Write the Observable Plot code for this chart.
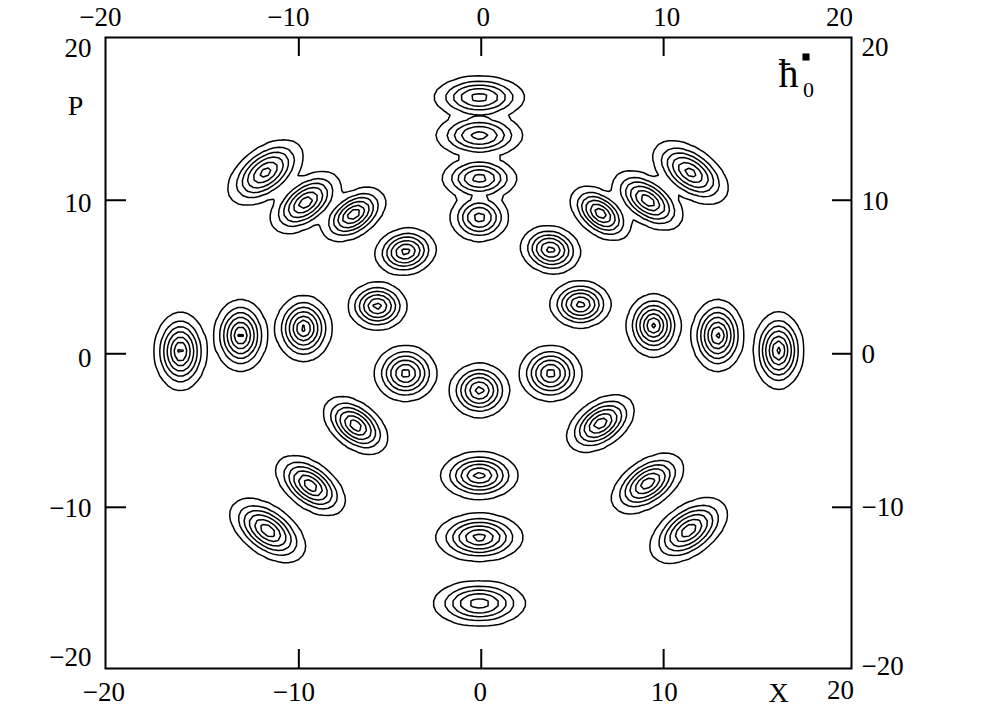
<!DOCTYPE html>
<html><head><meta charset="utf-8">
<script src="https://cdn.jsdelivr.net/npm/d3@7"></script>
<script src="https://cdn.jsdelivr.net/npm/@observablehq/plot@0.6"></script>
<style>html,body{margin:0;padding:0;background:#fff;}</style>
</head><body><div id="chart"></div>
<script>
// Blob (phase-space peak) parameters, in X / P units
const blobX     = [-0.1, -0.1, -0.1, -0.1,   -0.1, -0.1, -0.1, -0.1,
                   -16.49, -13.19, -9.74, 9.45, 12.96, 16.30,
                   -11.83, -9.63, -7.0, -4.15, -5.69,   11.47, 9.12, 6.54, 3.80, 5.44,
                   -4.15, 3.80,   -6.89, -9.36, -11.71,   6.54, 9.12, 11.37];
const blobP     = [16.70, 14.22, 11.42, 8.88,   -2.39, -7.93, -11.96, -16.26,
                   0.15, 1.19, 1.65, 1.84, 1.19, 0.21,
                   11.81, 9.85, 9.07, 6.65, 3.10,   11.81, 9.98, 9.14, 6.78, 3.22,
                   -1.28, -1.28,   -4.67, -8.58, -11.51,   -4.54, -8.45, -11.51];
// half-extent of the outermost contour along X and along P
const blobHalfX = [2.47, 2.36, 2.03, 1.59,   1.64, 2.11, 2.38, 2.52,
                   1.43, 1.45, 1.54, 1.48, 1.43, 1.37,
                   2.06, 1.92, 1.75, 1.66, 1.60,   2.06, 1.92, 1.64, 1.63, 1.66,
                   1.70, 1.70,   1.75, 1.89, 2.06,   1.84, 1.97, 2.11];
const blobHalfP = [1.37, 1.40, 1.37, 1.56,   1.76, 1.53, 1.56, 1.47,
                   2.54, 2.34, 2.15, 2.05, 2.34, 2.51,
                   2.12, 2.00, 1.75, 1.52, 1.55,   2.05, 1.92, 1.75, 1.55, 1.52,
                   1.82, 1.82,   1.86, 1.95, 2.08,   1.86, 1.95, 2.12];
const blobRho   = [0, 0, 0, 0,   0, 0, 0, 0,   0, 0, 0, 0, 0, 0,
                   0.5, 0.5, 0.45, 0.1, 0,   -0.5, -0.5, -0.45, -0.1, 0,
                   0, 0,   -0.45, -0.5, -0.5,   0.45, 0.5, 0.5];
const blobAmp   = [0.68, 0.68, 0.68, 0.68,   0.85, 0.85, 0.85, 0.7,
                   0.97, 0.97, 0.97, 0.97, 0.97, 0.97,
                   0.85, 0.9, 0.9, 0.85, 0.85,   0.85, 0.9, 0.9, 0.85, 0.85,
                   0.85, 0.85,   0.9, 0.9, 0.9,   0.9, 0.9, 0.9];
const levels = [0.03, 0.12, 0.24, 0.4, 0.6, 0.78, 0.93];

const tickVals  = [-10, 0, 10];
const labelVals = [-20, -10, 0, 10, 20];
const xDomain = [-20.6, 20.3];
const yDomain = [-20.5, 20.6];

// ---- model built from the arrays ----
const blobs = blobX.map((x, i) => {
  const k = Math.sqrt(2 * Math.log(blobAmp[i] / levels[0]));
  return {x, p: blobP[i], sx: blobHalfX[i] / k, sp: blobHalfP[i] / k, rho: blobRho[i], amp: blobAmp[i]};
});
function wigner(x, p) {
  let s = 0;
  for (const b of blobs) {
    const u = (x - b.x) / b.sx, v = (p - b.p) / b.sp;
    const q = (u * u - 2 * b.rho * u * v + v * v) / (1 - b.rho * b.rho);
    if (q < 80) s += b.amp * Math.exp(-q / 2);
  }
  return s;
}

// ---- layout ----
const W = 981, H = 721, mL = 105, mR = 130, mT = 37, mB = 53;
const fw = W - mL - mR, fh = H - mT - mB;

// coarse sampling grid over the frame (top row first) -> polygonal contours
const cell = 5;
const gw = Math.round(fw / cell), gh = Math.round(fh / cell);
const gx1 = xDomain[0], gx2 = xDomain[1], gy1 = yDomain[1], gy2 = yDomain[0];
const grid = new Array(gw * gh);
for (let j = 0; j < gh; ++j) {
  const p = gy1 + (j + 0.5) * (gy2 - gy1) / gh;
  for (let i = 0; i < gw; ++i) {
    grid[j * gw + i] = wigner(gx1 + (i + 0.5) * (gx2 - gx1) / gw, p);
  }
}

const fmt = v => v < 0 ? "\u2212" + (-v) : String(v);
const font = {fontFamily: "Liberation Serif, 'Times New Roman', serif", fontSize: 27, fill: "black", lineAnchor: "middle"};

const topDx = [-16, -10.5, 2, 3, -6.5];
const botDx = [-12.5, -5, -1, 0.5, -5.5];
const botDy = [24, 24, 24, 24, 22];
const leftDy = [-3, 1.5, 4.5, 3, 1.3];
const rightDy = [5.6, 0, 0.5, 1.5, 0.3];

const labelMarks = labelVals.flatMap((v, i) => [
  Plot.text([v], {x: d => d, frameAnchor: "top", textAnchor: "middle", dx: topDx[i], dy: -20.5, text: fmt, ...font}),
  Plot.text([v], {x: d => d, frameAnchor: "bottom", textAnchor: "middle", dx: botDx[i], dy: botDy[i], text: fmt, ...font}),
  Plot.text([v], {y: d => d, frameAnchor: "left", textAnchor: "end", dx: -14, dy: leftDy[i], text: fmt, ...font}),
  Plot.text([v], {y: d => d, frameAnchor: "right", textAnchor: "start", dx: 10, dy: rightDy[i], text: fmt, ...font})
]);

const chart = Plot.plot({
  width: W, height: H,
  marginLeft: mL, marginRight: mR, marginTop: mT, marginBottom: mB,
  style: {background: "white", color: "black"},
  x: {domain: xDomain, axis: null},
  y: {domain: yDomain, axis: null},
  marks: [
    Plot.contour(grid, {width: gw, height: gh, x1: gx1, y1: gy1, x2: gx2, y2: gy2,
                  value: d => d, thresholds: levels,
                  stroke: "black", fill: "none", strokeWidth: 1.5}),
    Plot.frame({stroke: "black", strokeWidth: 2}),
    Plot.ruleX(tickVals, {insetBottom: fh - 19, stroke: "black", strokeWidth: 2}),
    Plot.ruleX(tickVals, {insetTop: fh - 19, stroke: "black", strokeWidth: 2}),
    Plot.ruleY(tickVals, {insetRight: fw - 21, stroke: "black", strokeWidth: 2}),
    Plot.ruleY(tickVals, {insetLeft: fw - 19, stroke: "black", strokeWidth: 2}),
    ...labelMarks,
    Plot.text(["P"], {frameAnchor: "top-left", textAnchor: "middle", dx: -30, dy: 69, ...font, fontSize: 28}),
    Plot.text(["X"], {frameAnchor: "bottom-right", textAnchor: "middle", dx: -73, dy: 25, ...font, fontSize: 28}),
    Plot.text(["\u0127"], {frameAnchor: "top-right", textAnchor: "middle", dx: -63, dy: 37, ...font, fontSize: 40}),
    Plot.text(["0"], {frameAnchor: "top-right", textAnchor: "middle", dx: -43, dy: 52.5, ...font, fontSize: 22}),
    Plot.dot([0], {frameAnchor: "top-right", dx: -45.5, dy: 19.5, symbol: "square", r: 4, fill: "black", stroke: null})
  ]
});
document.getElementById("chart").appendChild(chart);
</script>
</body></html>
